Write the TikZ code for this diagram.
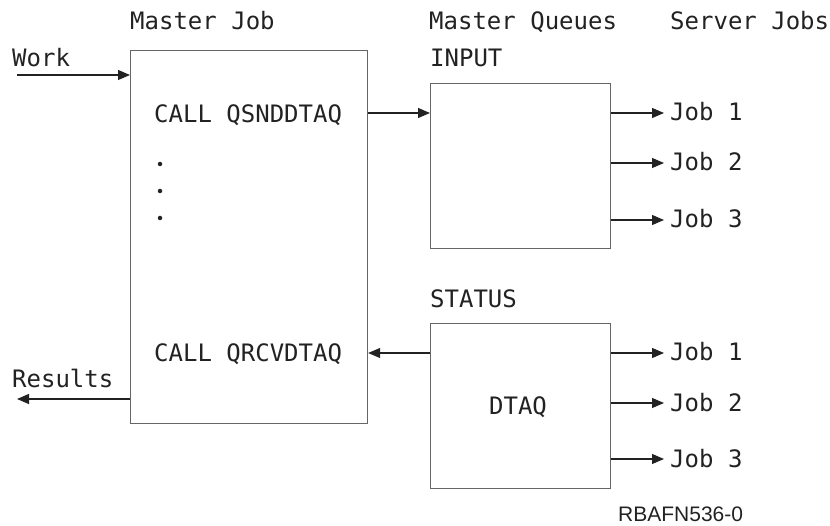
\documentclass[tikz,border=0pt]{standalone}
\usepackage{fontspec}
\newfontfamily\mfont{DejaVu Sans Mono}
\newfontfamily\sfont{Liberation Sans}
\usetikzlibrary{arrows.meta}
\definecolor{ink}{HTML}{222222}
\definecolor{boxline}{HTML}{666666}
\tikzset{
  lbl/.style={anchor=base west, inner sep=0pt, text=ink, font=\mfont\fontsize{24}{28}\selectfont},
  box/.style={draw=boxline, line width=1.2pt, anchor=north west, inner sep=0pt},
  conn/.style={draw=ink, line width=1.1pt, -{Triangle[length=12pt,width=10pt]}},
  dotmark/.style={circle, fill=ink, inner sep=0pt, minimum size=4.5pt}
}
\begin{document}
\begin{tikzpicture}[x=1pt,y=-1pt]
\useasboundingbox (0,0) rectangle (830,526);
% boxes
\node[box, minimum width=237pt, minimum height=373pt] (master) at (130,50) {};
\node[box, minimum width=180pt, minimum height=165pt] (input) at (430,83) {};
\node[box, minimum width=180pt, minimum height=165pt] (status) at (430,323) {};
% headings
\node[lbl] (hmaster) at (130,30) {Master Job};
\node[lbl] (hqueues) at (429,30) {Master Queues};
\node[lbl] (hserver) at (670,30) {Server Jobs};
\node[lbl] (work) at (12,67) {Work};
\node[lbl] (inputlbl) at (430,67) {INPUT};
\node[lbl] (statuslbl) at (430,308) {STATUS};
\node[lbl] (snd) at (154,123) {CALL QSNDDTAQ};
\node[lbl] (rcv) at (154,362) {CALL QRCVDTAQ};
\node[lbl] (results) at (12,388) {Results};
\node[lbl, anchor=base] (dtaq) at (518,415) {DTAQ};
% dots
\node[dotmark] (d1) at (160,164) {};
\node[dotmark] (d2) at (160,191) {};
\node[dotmark] (d3) at (160,218) {};
% jobs
\node[lbl] (ja1) at (670,121) {Job 1};
\node[lbl] (ja2) at (670,171) {Job 2};
\node[lbl] (ja3) at (670,228) {Job 3};
\node[lbl] (jb1) at (670,361) {Job 1};
\node[lbl] (jb2) at (670,411) {Job 2};
\node[lbl] (jb3) at (670,467) {Job 3};
% coordinates
\coordinate (workstart) at (17,75);
\coordinate (resend) at (17,399);
\coordinate (ta1) at (664,113);
\coordinate (ta2) at (664,163);
\coordinate (ta3) at (664,220);
\coordinate (tb1) at (664,353);
\coordinate (tb2) at (664,403);
\coordinate (tb3) at (664,459);
\coordinate (sndy) at (0,113);
\coordinate (rcvy) at (0,353);
% connectors
\draw[conn] (workstart) -- (workstart -| master.west);
\draw[conn] (master.east |- sndy) -- (input.west |- sndy);
\draw[conn] (status.west |- rcvy) -- (master.east |- rcvy);
\draw[conn] (master.west |- resend) -- (resend);
\draw[conn] (input.east |- ta1) -- (ta1);
\draw[conn] (input.east |- ta2) -- (ta2);
\draw[conn] (input.east |- ta3) -- (ta3);
\draw[conn] (status.east |- tb1) -- (tb1);
\draw[conn] (status.east |- tb2) -- (tb2);
\draw[conn] (status.east |- tb3) -- (tb3);
% figure id
\node[anchor=base west, inner sep=0pt, text=ink, font=\sfont\fontsize{21}{24}\selectfont] (figid) at (618,521) {RBAFN536-0};
\end{tikzpicture}
\end{document}
